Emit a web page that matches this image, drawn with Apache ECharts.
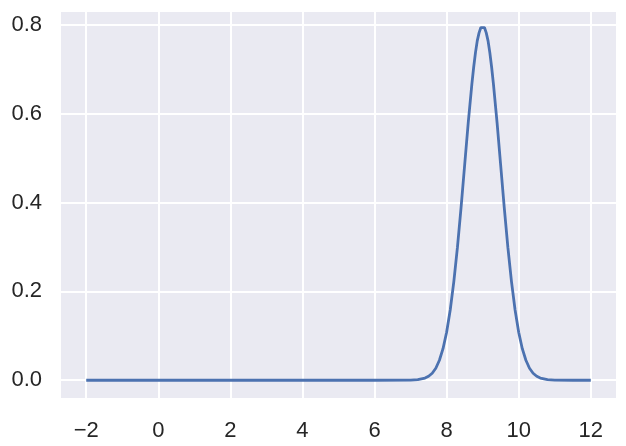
<!DOCTYPE html>
<html>
<head>
<meta charset="utf-8">
<script src="https://cdn.jsdelivr.net/npm/echarts@6/dist/echarts.min.js"></script>
<style>
html,body{margin:0;padding:0;background:#fff;}
#chart{width:626px;height:446px;}
</style>
</head>
<body>
<div id="chart"></div>
<script>
// x positions and density values
var xs = [-2, 0, 2, 4, 6, 7.0, 7.2, 7.4, 7.5, 7.6, 7.7, 7.8, 7.9, 8.0, 8.1, 8.2, 8.3, 8.4, 8.5, 8.6, 8.7, 8.75, 8.8, 8.85, 8.9, 8.95, 9.0,
          9.05, 9.1, 9.15, 9.2, 9.25, 9.3, 9.4, 9.5, 9.6, 9.7, 9.8, 9.9, 10.0, 10.1, 10.2, 10.3, 10.4, 10.5, 10.6, 10.8, 11.0, 11.5, 12];
var ys = [0, 0, 0, 0, 0, 0.0003, 0.0012, 0.0048, 0.0089, 0.0158, 0.027, 0.045, 0.071, 0.108, 0.158, 0.222, 0.299, 0.388, 0.484, 0.580, 0.666, 0.704, 0.737, 0.764, 0.782, 0.794, 0.798,
          0.794, 0.782, 0.764, 0.737, 0.704, 0.666, 0.580, 0.484, 0.388, 0.299, 0.222, 0.158, 0.108, 0.071, 0.045, 0.027, 0.0158, 0.0089, 0.0048, 0.0012, 0.0003, 0, 0];
var xTicks = [-2, 0, 2, 4, 6, 8, 10, 12];
var yTicks = [0, 0.2, 0.4, 0.6, 0.8];

var data = xs.map(function (x, i) { return [x, ys[i]]; });
var chart = echarts.init(document.getElementById('chart'), null, {renderer: 'canvas'});
var font = '"Liberation Sans", Arial, sans-serif';
chart.setOption({
  animation: false,
  backgroundColor: '#ffffff',
  grid: {left: 61, right: 10, top: 12, bottom: 48, show: true, backgroundColor: '#EAEAF2', borderWidth: 0},
  xAxis: {
    type: 'value', min: -2.7, max: 12.7,
    axisLine: {show: false},
    axisTick: {show: false, customValues: xTicks},
    splitLine: {show: true, lineStyle: {color: '#ffffff', width: 2}},
    axisLabel: {
      customValues: xTicks, margin: 22, fontSize: 22, color: '#262626', fontFamily: font,
      formatter: function (v) { return v < 0 ? '\u2212' + Math.abs(v) : String(v); }
    }
  },
  yAxis: {
    type: 'value', min: -0.04, max: 0.829,
    axisLine: {show: false},
    axisTick: {show: false, customValues: yTicks},
    splitLine: {show: true, lineStyle: {color: '#ffffff', width: 2}},
    axisLabel: {
      customValues: yTicks, margin: 19, fontSize: 22, color: '#262626', fontFamily: font,
      formatter: function (v) { return v.toFixed(1); }
    }
  },
  series: [{
    type: 'line', data: data, showSymbol: false, smooth: false,
    lineStyle: {color: '#4C72B0', width: 2.8}, itemStyle: {color: '#4C72B0'}
  }]
});
</script>
</body>
</html>
